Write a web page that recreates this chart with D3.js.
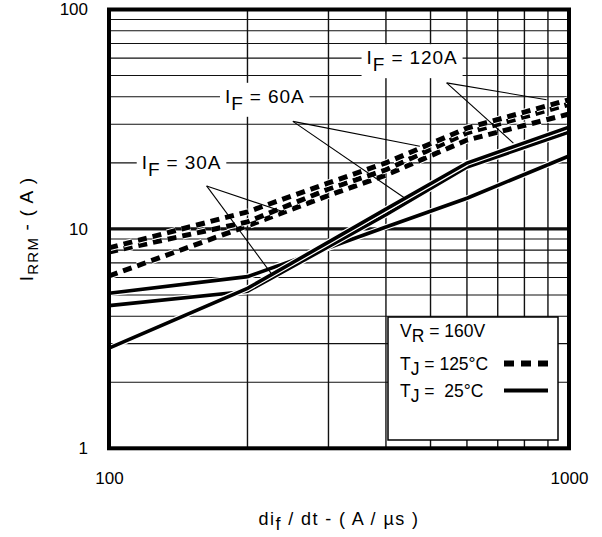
<!DOCTYPE html>
<html>
<head>
<meta charset="utf-8">
<script src="https://cdn.jsdelivr.net/npm/d3@7"></script>
<style>
  body { margin: 0; background: #fff; }
  text { font-family: "Liberation Sans", Arial, Helvetica, sans-serif; fill: #000; }
</style>
</head>
<body>
<svg id="chart" width="602" height="537"></svg>
<script>
// di/dt (A/us) sample points, shared by every curve
const diDt = [100, 200, 300, 400, 600, 1000];

// Tj = 125°C (dashed)
const hot120 = [8.19, 11.96, 16.2, 20.0, 28.8, 38.8];
const hot60 = [7.85, 10.76, 15.2, 18.6, 27.4, 37.0];
const hot30 = [6.10, 10.32, 14.2, 17.6, 25.4, 33.4];

// Tj = 25°C (solid)
const cold30 = [5.09, 6.06, 8.2, 10.2, 13.8, 21.5];
const cold60 = [4.47, 5.2, 8.3, 11.6, 19.15, 27.65];
const cold120 = [2.86, 5.36, 8.7, 12.3, 19.96, 29.1];

const xTicks = [100, 1000];
const yTicks = [1, 10, 100];

// IF labels: text, anchor (di/dt, Irrm)
const labelText = ["30A", "60A", "120A"];
const labelAt = [[117.8, 20], [178.7, 40], [363, 60]];
// leader lines [x0, y0, x1, y1] in data units
const leaders = [
    [163, 15.7, 241, 11.9], [163, 15.7, 226, 6.2],
    [251, 30.9, 474, 23.8], [251, 30.9, 440, 13.8],
    [542, 46.3, 894, 38.8], [542, 46.3, 757, 24.6]
];

const width = 602, height = 537;
const margin = { top: 9.5, right: 33, bottom: 88.7, left: 109 };
const innerWidth = width - margin.left - margin.right;
const innerHeight = height - margin.top - margin.bottom;

const svg = d3.select("#chart");

const xScale = d3.scaleLog().domain([100, 1000]).range([0, innerWidth]);
const yScale = d3.scaleLog().domain([1, 100]).range([innerHeight, 0]);

const g = svg.append("g")
    .attr("transform", `translate(${margin.left},${margin.top})`);

// grid
g.selectAll(".vgrid")
    .data(xScale.ticks().filter(d => d > 100 && d < 1000))
    .enter().append("line")
    .attr("x1", d => xScale(d)).attr("x2", d => xScale(d))
    .attr("y1", 0).attr("y2", innerHeight)
    .attr("stroke", "#111").attr("stroke-width", 1.4);

g.selectAll(".hgrid")
    .data(yScale.ticks().filter(d => d > 1 && d < 100))
    .enter().append("line")
    .attr("x1", 0).attr("x2", innerWidth)
    .attr("y1", d => yScale(d)).attr("y2", d => yScale(d))
    .attr("stroke", "#111")
    .attr("stroke-width", d => d === 10 ? 3.2 : 1.1);

// axes (labels only)
const yAxisG = g.append("g")
    .call(d3.axisLeft(yScale).tickValues(yTicks).tickSize(0).tickPadding(21).tickFormat(d3.format("d")));
yAxisG.select(".domain").remove();
yAxisG.selectAll("text").attr("font-size", 17).attr("font-family", "Liberation Sans, Arial, sans-serif");

const xAxisG = g.append("g")
    .attr("transform", `translate(0,${innerHeight})`)
    .call(d3.axisBottom(xScale).tickValues(xTicks).tickSize(0).tickPadding(24).tickFormat(d3.format("d")));
xAxisG.select(".domain").remove();
xAxisG.selectAll("text").attr("font-size", 17).attr("font-family", "Liberation Sans, Arial, sans-serif");

// curves
const line = d3.line()
    .x(d => xScale(d[0]))
    .y(d => yScale(d[1]));

const drawCurve = (vals, dashed) => {
    const pts = diDt.map((d, i) => [d, vals[i]]);
    g.append("path")
        .datum(pts)
        .attr("d", line)
        .attr("fill", "none")
        .attr("stroke", "#fff")
        .attr("stroke-width", dashed ? 7 : 6)
        .attr("stroke-dasharray", dashed ? "9,6" : null);
    g.append("path")
        .datum(pts)
        .attr("d", line)
        .attr("fill", "none")
        .attr("stroke", "#000")
        .attr("stroke-width", dashed ? 5 : 3.6)
        .attr("stroke-dasharray", dashed ? "9,6" : null);
};

[hot30, hot60, hot120].forEach(v => drawCurve(v, true));
[cold30, cold60, cold120].forEach(v => drawCurve(v, false));

// leader lines
g.selectAll(".leader")
    .data(leaders)
    .enter().append("line")
    .attr("x1", d => xScale(d[0])).attr("y1", d => yScale(d[1]))
    .attr("x2", d => xScale(d[2])).attr("y2", d => yScale(d[3]))
    .attr("stroke", "#000").attr("stroke-width", 1.1);

// IF labels with white backing
labelText.forEach((t, i) => {
    const bg = g.append("rect").attr("fill", "#fff");
    const txt = g.append("text")
        .attr("x", xScale(labelAt[i][0]))
        .attr("y", yScale(labelAt[i][1]) + 6)
        .attr("font-size", 19)
        .attr("letter-spacing", 0.9);
    txt.append("tspan").text("I");
    txt.append("tspan").attr("dy", 7).text("F");
    txt.append("tspan").attr("dy", -7).text(" = " + t);
    const bb = txt.node().getBBox();
    bg.attr("x", bb.x - 5).attr("y", bb.y - 3)
        .attr("width", bb.width + 10).attr("height", bb.height + 6);
});

// legend
const legendG = svg.append("g").attr("transform", "translate(388,317)");
legendG.append("rect")
    .attr("width", 170).attr("height", 123)
    .attr("fill", "#fff").attr("stroke", "#000").attr("stroke-width", 1.5);

const legendRow = (y, main, sub, rest) => {
    const t = legendG.append("text")
        .attr("x", 12).attr("y", y)
        .attr("font-size", 17.5)
        .style("white-space", "pre");
    t.append("tspan").text(main);
    t.append("tspan").attr("dy", 5).text(sub);
    t.append("tspan").attr("dy", -5).text(rest);
};
legendRow(20, "V", "R", " = 160V");
legendRow(53, "T", "J", " = 125°C");
legendRow(80, "T", "J", " =  25°C");

legendG.append("line")
    .attr("x1", 116).attr("x2", 162).attr("y1", 46.5).attr("y2", 46.5)
    .attr("stroke", "#000").attr("stroke-width", 6).attr("stroke-dasharray", "10,7");
legendG.append("line")
    .attr("x1", 116).attr("x2", 160).attr("y1", 73.5).attr("y2", 73.5)
    .attr("stroke", "#000").attr("stroke-width", 4);

// frame
g.append("rect")
    .attr("width", innerWidth).attr("height", innerHeight)
    .attr("fill", "none").attr("stroke", "#000").attr("stroke-width", 4);

// axis titles
const xTitle = svg.append("text")
    .attr("x", margin.left + innerWidth / 2)
    .attr("y", 525)
    .attr("text-anchor", "middle")
    .attr("font-size", 18)
    .attr("letter-spacing", 1.4);
xTitle.append("tspan").text("di");
xTitle.append("tspan").attr("dy", 5).text("f");
xTitle.append("tspan").attr("dy", -5).text(" / dt - ( A / µs )");

const yTitle = svg.append("text")
    .attr("transform", `translate(33,${margin.top + innerHeight / 2}) rotate(-90)`)
    .attr("text-anchor", "middle")
    .attr("font-size", 19)
    .attr("letter-spacing", 1.2);
yTitle.append("tspan").text("I");
yTitle.append("tspan").attr("dy", 5).attr("font-size", 15).text("RRM");
yTitle.append("tspan").attr("dy", -5).text(" - ( A )");
</script>
</body>
</html>
